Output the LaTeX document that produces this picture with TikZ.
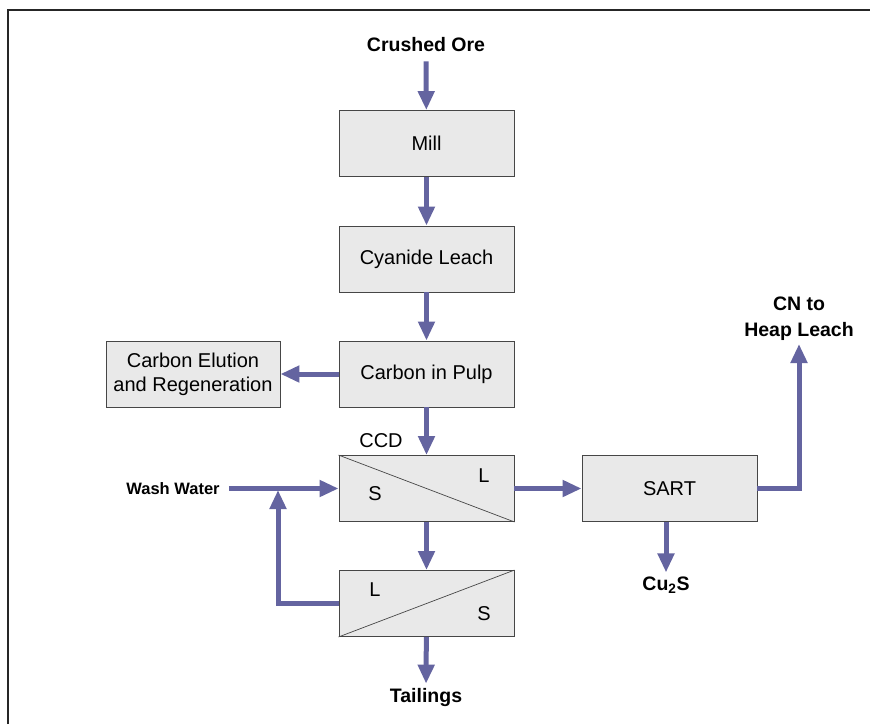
\documentclass[tikz,border=0pt]{standalone}
\usepackage{fontspec}
\setmainfont{Liberation Sans}
\usetikzlibrary{arrows.meta}
\definecolor{flowc}{RGB}{100,100,160}
\definecolor{boxfill}{RGB}{233,233,233}
\definecolor{boxline}{RGB}{70,70,70}
\tikzset{
  procbox/.style={draw=boxline, fill=boxfill, line width=0.9pt, minimum width=175pt, minimum height=66pt, inner sep=0pt, align=center, font=\fontsize{20}{24}\selectfont},
  lbl/.style={inner sep=4pt, align=center, font=\fontsize{19.5}{26}\selectfont\bfseries},
  sl/.style={inner sep=0pt, font=\fontsize{20}{24}\selectfont},
  flow/.style={draw=flowc, line width=5pt, -{Triangle[length=19pt,width=16pt]}},
  diag/.style={draw=boxline, line width=0.7pt}
}
\begin{document}
\begin{tikzpicture}[x=1pt,y=-1pt]
\useasboundingbox (0,0) rectangle (870,724);
\draw[line width=1.2pt, black!85] (8,724) -- (8,10) -- (870,10);

\node[lbl] (ore) at (426,45) {Crushed Ore};
\node[procbox] (mill) at (426.5,143.5) {Mill};
\node[procbox] (leach) at (426.5,259) {Cyanide Leach};
\node[procbox] (cip) at (426.5,374) {Carbon in Pulp};
\node[procbox, minimum width=174pt] (elution) at (193,374) {Carbon Elution\\and Regeneration};
\node[procbox] (ccd1) at (426.5,488.5) {};
\node[procbox] (ccd2) at (426.5,603.5) {};
\node[procbox] (sart) at (669.5,488.5) {SART};
\node[lbl, font=\fontsize{20}{24}\selectfont] (ccdlbl) at (381,441) {CCD};
\node[lbl, font=\fontsize{16.5}{20}\selectfont\bfseries] (wash) at (173,488.5) {Wash Water};
\node[lbl] (tail) at (426,697) {Tailings};
\node[lbl] (cu2s) at (666,585) {Cu\textsubscript{2}S};
\node[lbl] (cn) at (799,319) {CN to\\Heap Leach};

\draw[diag] (ccd1.north west) -- (ccd1.south east);
\draw[diag] (ccd2.south west) -- (ccd2.north east);
\node[sl] (s1) at (375,494) {S};
\node[sl] (l1) at (484,476) {L};
\node[sl] (l2) at (375,590) {L};
\node[sl] (s2) at (484,614) {S};

\coordinate (j) at (278,490);
\coordinate (cnend) at (799,344);

\draw[flow, shorten <=5pt] (ore) -- (mill);
\draw[flow] (mill) -- (leach);
\draw[flow] (leach) -- (cip);
\draw[flow] (cip) -- (elution);
\draw[flow] (cip) -- (ccd1);
\draw[flow] (ccd1) -- (ccd2);
\draw[flow] (ccd2) -- (tail);
\draw[flow, shorten <=5pt] (wash) -- (ccd1);
\draw[flow] (ccd2.west) -| (j);
\draw[flow] (ccd1) -- (sart);
\draw[flow] (sart.east) -| (cnend);
\draw[flow] (sart.south -| cu2s) -- (cu2s);
\end{tikzpicture}
\end{document}
